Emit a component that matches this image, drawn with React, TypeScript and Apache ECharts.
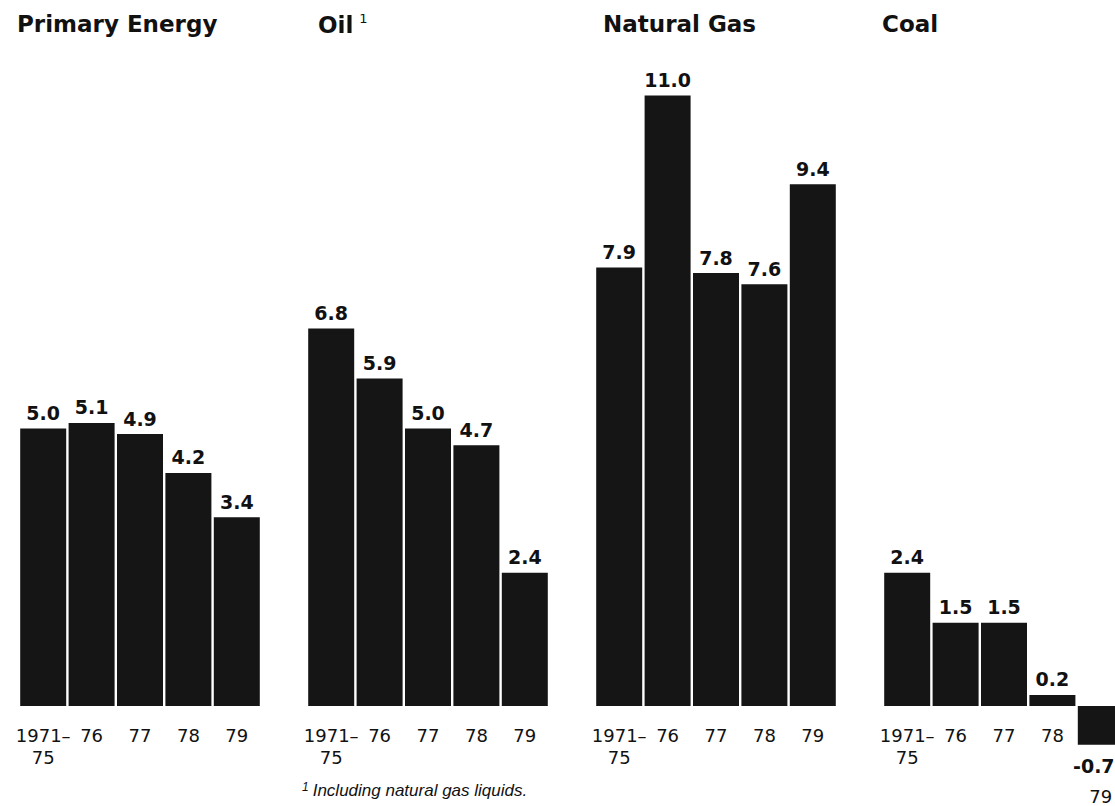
import React, { useEffect, useRef } from "react";
import * as echarts from "echarts";

// Annual growth rates (%) by energy source
const groupTitles = ["Primary Energy", "Oil", "Natural Gas", "Coal"];
const periodLabels = ["1971–\n75", "76", "77", "78", "79"];
const primaryEnergy = [5.0, 5.1, 4.9, 4.2, 3.4];
const oil = [6.8, 5.9, 5.0, 4.7, 2.4];
const naturalGas = [7.9, 11.0, 7.8, 7.6, 9.4];
const coal = [2.4, 1.5, 1.5, 0.2, -0.7];
const footnote = "Including natural gas liquids.";

const seriesValues = [primaryEnergy, oil, naturalGas, coal];

const INK = "#111111";
const BAR = "#151515";
const FONT = "DejaVu Sans";

const groupLeft = [19, 307, 595, 883];
const titleLeft = [17, 318, 603, 882];
const GROUP_WIDTH = 242;
const GRID_TOP = 40;
const Y_MIN = -1;
const Y_MAX = 12;
const PX_PER_UNIT = 55.5;

export default function App() {
  const ref = useRef<HTMLDivElement>(null);

  useEffect(() => {
    if (!ref.current) return;
    const chart = echarts.init(ref.current, null, { renderer: "svg" });

    const grids = groupLeft.map((left) => ({
      left,
      top: GRID_TOP,
      width: GROUP_WIDTH,
      height: (Y_MAX - Y_MIN) * PX_PER_UNIT,
      containLabel: false,
      outerBoundsMode: "none",
    }));

    // category axis drawn at the zero line (grid bottom sits at Y_MIN)
    const xAxes = groupLeft.map((_, i) => ({
      type: "category",
      gridIndex: i,
      data: periodLabels,
      offset: Y_MIN * PX_PER_UNIT,
      axisLine: { show: false, onZero: false },
      axisTick: { show: false },
      axisLabel: {
        interval: 0,
        color: INK,
        fontFamily: FONT,
        fontSize: 18,
        lineHeight: 22,
        margin: 18,
        // the label under a negative bar drops below that bar
        formatter: (v: string, idx: number) =>
          seriesValues[i][idx] < 0 ? `{low|${v}}` : v,
        rich: {
          low: {
            color: INK,
            fontFamily: FONT,
            fontSize: 18,
            lineHeight: 22,
            padding: [122, 0, 0, 0],
          },
        },
      },
    }));

    const yAxes = groupLeft.map((_, i) => ({
      type: "value",
      gridIndex: i,
      min: Y_MIN,
      max: Y_MAX,
      show: false,
      splitLine: { show: false },
    }));

    const series = seriesValues.map((vals, i) => ({
      type: "bar",
      xAxisIndex: i,
      yAxisIndex: i,
      barWidth: 46,
      clip: false,
      itemStyle: { color: BAR },
      label: {
        show: true,
        position: "top",
        distance: 6,
        color: INK,
        fontFamily: FONT,
        fontWeight: "bold",
        fontSize: 19,
        formatter: (p: any) => Number(p.value).toFixed(1),
      },
      data: vals.map((v) =>
        v < 0
          ? { value: v, label: { position: "bottom", distance: 12, offset: [-7, 0] } }
          : v
      ),
    }));

    const titleStyle = {
      color: INK,
      fontFamily: FONT,
      fontWeight: "bold",
      fontSize: 23,
      rich: {
        sup: {
          color: INK,
          fontFamily: FONT,
          fontWeight: "normal",
          fontSize: 13,
          verticalAlign: "top",
          padding: [0, 0, 12, 6],
        },
      },
    };

    const titles: any[] = groupTitles.map((t, i) => ({
      text: i === 1 ? `${t}{sup|1}` : t,
      left: titleLeft[i],
      top: 12,
      padding: 0,
      textStyle: titleStyle,
    }));

    titles.push({
      text: `{sup|1}{txt|${footnote}}`,
      left: 302,
      top: 781,
      padding: 0,
      textStyle: {
        fontWeight: "normal",
        rich: {
          sup: {
            color: INK,
            fontFamily: "Liberation Sans",
            fontStyle: "italic",
            fontWeight: "normal",
            fontSize: 12,
            verticalAlign: "top",
            padding: [0, 4, 6, 0],
          },
          txt: {
            color: INK,
            fontFamily: "Liberation Sans",
            fontStyle: "italic",
            fontWeight: "normal",
            fontSize: 17,
          },
        },
      },
    });

    chart.setOption({
      animation: false,
      backgroundColor: "#ffffff",
      title: titles,
      grid: grids,
      xAxis: xAxes,
      yAxis: yAxes,
      series,
    });

    return () => chart.dispose();
  }, []);

  return (
    <div
      ref={ref}
      style={{ position: "absolute", left: 0, top: 0, width: 1115, height: 806 }}
    />
  );
}
